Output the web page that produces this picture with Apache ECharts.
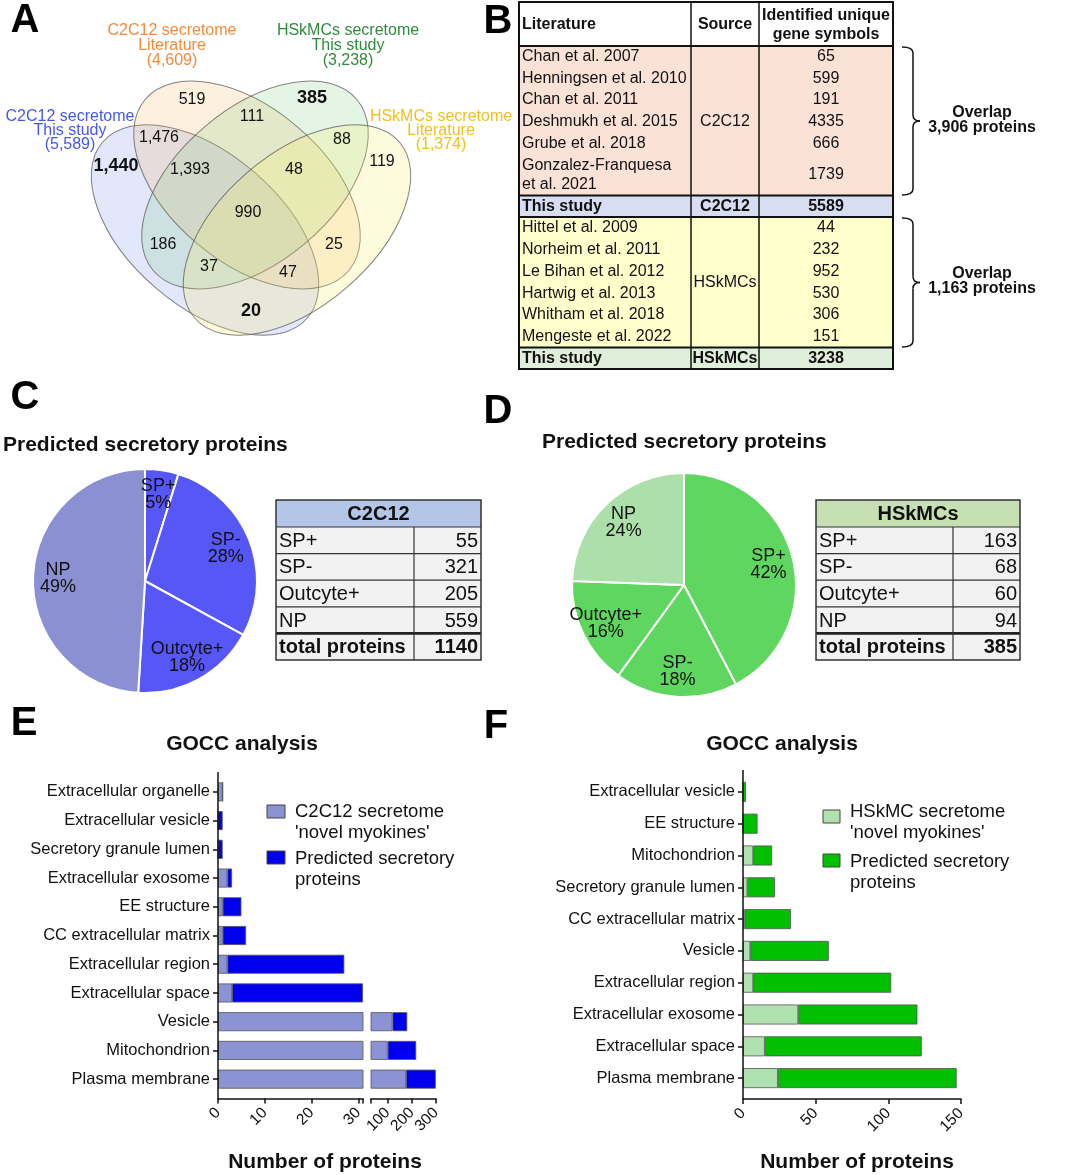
<!DOCTYPE html>
<html><head><meta charset="utf-8">
<script src="https://cdn.jsdelivr.net/npm/echarts@6/dist/echarts.min.js"></script>
<style>html,body{margin:0;padding:0;background:#fff}#c{width:1065px;height:1175px}</style>
</head><body><div id="c"></div>
<script>
// ================= DATA =================
// Panel A – Venn
const vennSetNames = ['C2C12 secretome\nThis study', 'C2C12 secretome\nLiterature', 'HSkMCs secretome\nThis study', 'HSkMCs secretome\nLiterature'];
const vennSetSizes = [5589, 4609, 3238, 1374];
const vennRegionCounts = [1440, 519, 385, 119, 1476, 111, 88, 1393, 48, 990, 186, 25, 37, 47, 20];
const vennBold = [true, false, true, false, false, false, false, false, false, false, false, false, false, false, true];

// Panel B – literature table
const litC2C12 = ['Chan et al. 2007', 'Henningsen et al. 2010', 'Chan et al. 2011', 'Deshmukh et al. 2015', 'Grube et al. 2018', 'Gonzalez-Franquesa\net al. 2021'];
const litC2C12Counts = [65, 599, 191, 4335, 666, 1739];
const litHSk = ['Hittel et al. 2009', 'Norheim et al. 2011', 'Le Bihan et al. 2012', 'Hartwig et al. 2013', 'Whitham et al. 2018', 'Mengeste et al. 2022'];
const litHSkCounts = [44, 232, 952, 530, 306, 151];
const thisStudyCounts = [5589, 3238];
const overlapCounts = ['3,906', '1,163'];

// Panels C/D – predicted secretory proteins
const pieCats = ['SP+', 'SP-', 'Outcyte+', 'NP'];
const c2c12Pie = [55, 321, 205, 559];
const hskPie = [163, 68, 60, 94];

// Panel E – GOCC C2C12
const catsE = ['Extracellular organelle', 'Extracellular vesicle', 'Secretory granule lumen', 'Extracellular exosome', 'EE structure', 'CC extracellular matrix', 'Extracellular region', 'Extracellular space', 'Vesicle', 'Mitochondrion', 'Plasma membrane'];
const novelE = [1, 0, 0, 2, 1, 1, 2, 3, 120, 100, 176];
const predE = [0, 1, 1, 1, 4, 5, 25, 28, 61, 118, 123];
const ticksE1 = [0, 10, 20, 30];
const ticksE2 = [100, 200, 300];

// Panel F – GOCC HSkMCs
const catsF = ['Extracellular vesicle', 'EE structure', 'Mitochondrion', 'Secretory granule lumen', 'CC extracellular matrix', 'Vesicle', 'Extracellular region', 'Extracellular exosome', 'Extracellular space', 'Plasma membrane'];
const novelF = [0, 0, 7, 3, 1, 5, 7, 38, 15, 24];
const predF = [2, 10, 13, 19, 32, 54, 95, 82, 108, 123];

// ================= LAYOUT / STYLE =================
const FF = '"Liberation Sans", Arial, Helvetica, sans-serif';
function txt(x, y, text, o) {
  o = o || {};
  const st = {x: x, y: y, text: String(text), fill: o.color || '#111',
    font: (o.bold ? 'bold ' : '') + (o.size || 16) + 'px ' + FF,
    textAlign: o.align || 'left', align: o.align || 'left',
    textVerticalAlign: o.va || 'middle', verticalAlign: o.va || 'middle'};
  if (o.lh) st.lineHeight = o.lh;
  return {type: 'text', silent: true, z: o.z || 20, style: st};
}
function rect(x, y, w, h, fill, stroke, lw, z) {
  return {type: 'rect', silent: true, z: z || 5, shape: {x: x, y: y, width: w, height: h},
    style: {fill: fill || 'none', stroke: stroke || null, lineWidth: lw || 0}};
}
function line(x1, y1, x2, y2, lw, color, z) {
  return {type: 'line', silent: true, z: z || 8, shape: {x1: x1, y1: y1, x2: x2, y2: y2},
    style: {stroke: color || '#111', lineWidth: lw || 1}};
}
const fmt = n => n.toLocaleString('en-US');
const G = [];

// Panel letters
[['A', 25, 21], ['B', 498, 21.5], ['C', 25, 398], ['D', 498, 412], ['E', 24, 723.5], ['F', 496, 727]].forEach(l =>
  G.push(txt(l[1], l[2], l[0], {size: 40, bold: true, align: 'center', color: '#000'})));

// ---- Venn ellipses ----
const vennShapes = [
  {cx: 205, cy: 230, a: 135, b: 76, rot: -40.7, fill: 'rgba(100,120,240,0.18)'},
  {cx: 247, cy: 185, a: 133, b: 77, rot: -40, fill: 'rgba(250,170,80,0.18)'},
  {cx: 255, cy: 185, a: 133, b: 77, rot: 40, fill: 'rgba(110,200,110,0.18)'},
  {cx: 297, cy: 230, a: 135, b: 76, rot: 40.7, fill: 'rgba(250,238,100,0.22)'}
];
vennShapes.forEach(s => G.push({type: 'ellipse', silent: true, z: 3, x: s.cx, y: s.cy,
  rotation: s.rot * Math.PI / 180, shape: {cx: 0, cy: 0, rx: s.a, ry: s.b},
  style: {fill: s.fill, stroke: 'rgba(90,90,90,0.75)', lineWidth: 1}}));
const vennSetLabelPos = [[70, 130.5, 13.7], [172, 46, 15], [348, 46, 15], [441, 130.5, 13.7]];
const vennSetColors = ['#4458e8', '#f58a3a', '#2f8a3c', '#f0c020'];
vennSetNames.forEach((n, i) => {
  const p = vennSetLabelPos[i];
  G.push(txt(p[0], p[1], n + '\n(' + fmt(vennSetSizes[i]) + ')', {size: 16, align: 'center', color: vennSetColors[i], lh: p[2]}));
});
const vennRegionPos = [[116, 166], [192, 100], [312, 98], [382, 162], [159, 138], [252, 117], [342, 140], [190, 170], [294, 170], [248, 213], [163, 245], [334, 245], [209, 267], [288, 273], [251, 311]];
vennRegionCounts.forEach((c, i) => G.push(txt(vennRegionPos[i][0], vennRegionPos[i][1], fmt(c),
  {size: vennBold[i] ? 18 : 16, bold: vennBold[i], align: 'center', color: '#111'})));

// ---- Table B ----
(function () {
  const X0 = 519, X1 = 691, X2 = 759, X3 = 893, TOP = 2, HEAD = 46;
  const rh1 = 21.6, dbl = 41.6, rh2 = 21.75;
  const b1Top = HEAD, b1Bot = HEAD + rh1 * 5 + dbl;
  const t1Bot = b1Bot + 21.5;
  const b2Bot = t1Bot + rh2 * 6;
  const t2Bot = b2Bot + 21.5;
  G.push(rect(X0, TOP, X3 - X0, HEAD - TOP, '#ffffff'));
  G.push(rect(X0, b1Top, X3 - X0, b1Bot - b1Top, '#fbe2d6'));
  G.push(rect(X0, b1Bot, X3 - X0, t1Bot - b1Bot, '#d8def2'));
  G.push(rect(X0, t1Bot, X3 - X0, b2Bot - t1Bot, '#ffffcc'));
  G.push(rect(X0, b2Bot, X3 - X0, t2Bot - b2Bot, '#e0efda'));
  G.push(rect(X0, TOP, X3 - X0, t2Bot - TOP, null, '#111', 2, 9));
  [HEAD, b1Bot, t1Bot, b2Bot].forEach(y => G.push(line(X0, y, X3, y, 2)));
  [X1, X2].forEach(x => G.push(line(x, TOP, x, t2Bot, 1.5)));
  G.push(txt(X0 + 3, 25, 'Literature', {bold: true, size: 16}));
  G.push(txt((X1 + X2) / 2, 25, 'Source', {bold: true, size: 16, align: 'center'}));
  G.push(txt((X2 + X3) / 2, 25.5, 'Identified unique\ngene symbols', {bold: true, size: 16, align: 'center', lh: 19}));
  litC2C12.forEach((n, i) => {
    const y = i < 5 ? b1Top + rh1 * (i + 0.5) : b1Top + rh1 * 5 + dbl / 2;
    G.push(txt(X0 + 3, y, n, {size: 16, lh: 19}));
    G.push(txt((X2 + X3) / 2, y, litC2C12Counts[i], {size: 16, align: 'center'}));
  });
  G.push(txt((X1 + X2) / 2, b1Top + rh1 * 3.5, 'C2C12', {size: 16, align: 'center'}));
  litHSk.forEach((n, i) => {
    const y = t1Bot + rh2 * (i + 0.5);
    G.push(txt(X0 + 3, y, n, {size: 16}));
    G.push(txt((X2 + X3) / 2, y, litHSkCounts[i], {size: 16, align: 'center'}));
  });
  G.push(txt((X1 + X2) / 2, t1Bot + rh2 * 3, 'HSkMCs', {size: 16, align: 'center'}));
  [[b1Bot, t1Bot, 'C2C12'], [b2Bot, t2Bot, 'HSkMCs']].forEach((r, i) => {
    const y = (r[0] + r[1]) / 2 + 0.5;
    G.push(txt(X0 + 3, y, 'This study', {size: 16, bold: true}));
    G.push(txt((X1 + X2) / 2, y, r[2], {size: 16, bold: true, align: 'center'}));
    G.push(txt((X2 + X3) / 2, y, thisStudyCounts[i], {size: 16, bold: true, align: 'center'}));
  });
  function brace(y0, y1) {
    const xa = 902, xb = 913, xc = 920, r = 6, ym = (y0 + y1) / 2;
    const st = {stroke: '#111', lineWidth: 1.5, fill: 'none'};
    const bz = (x1, y1_, cx, cy, x2, y2) => ({type: 'bezierCurve', silent: true, z: 8,
      shape: {x1: x1, y1: y1_, cpx1: cx, cpy1: cy, x2: x2, y2: y2}, style: st});
    G.push(bz(xa, y0, xb, y0, xb, y0 + r));
    G.push(line(xb, y0 + r, xb, ym - r, 1.5));
    G.push(bz(xb, ym - r, xb, ym, xc, ym));
    G.push(bz(xc, ym, xb, ym, xb, ym + r));
    G.push(line(xb, ym + r, xb, y1 - r, 1.5));
    G.push(bz(xb, y1 - r, xb, y1, xa, y1));
  }
  brace(47, 195);
  brace(218, 347);
  G.push(txt(982, 120.5, 'Overlap\n' + overlapCounts[0] + ' proteins', {bold: true, size: 16, align: 'center', lh: 15}));
  G.push(txt(982, 281.5, 'Overlap\n' + overlapCounts[1] + ' proteins', {bold: true, size: 16, align: 'center', lh: 15}));
})();

// ---- Small tables C / D ----
function smallTable(X0, XM, X1, head, headColor, vals) {
  const top = 500, hh = 27, rh = 26.6;
  const bottom = top + hh + rh * 5;
  G.push(rect(X0, top, X1 - X0, hh, headColor));
  G.push(rect(X0, top + hh, X1 - X0, rh * 5, '#f2f2f2'));
  G.push(rect(X0, top, X1 - X0, bottom - top, null, '#333', 1.5, 9));
  for (let i = 0; i < 4; i++) G.push(line(X0, top + hh + rh * i, X1, top + hh + rh * i, 1.2, '#333'));
  G.push(line(X0, top + hh + rh * 4, X1, top + hh + rh * 4, 2.6, '#222'));
  G.push(line(XM, top + hh, XM, bottom, 1.2, '#333'));
  G.push(txt((X0 + X1) / 2, top + hh / 2 + 1, head, {bold: true, size: 20, align: 'center'}));
  const tot = vals.reduce((a, b) => a + b, 0);
  pieCats.forEach((c, i) => {
    const y = top + hh + rh * (i + 0.5) + 1;
    G.push(txt(X0 + 3, y, c, {size: 20}));
    G.push(txt(X1 - 3, y, vals[i], {size: 20, align: 'right'}));
  });
  const y = top + hh + rh * 4.5 + 1;
  G.push(txt(X0 + 3, y, 'total proteins', {size: 20, bold: true}));
  G.push(txt(X1 - 3, y, tot, {size: 20, bold: true, align: 'right'}));
}
smallTable(276, 414, 481, 'C2C12', '#b4c6e7', c2c12Pie);
smallTable(816, 953, 1020, 'HSkMCs', '#c6e0b4', hskPie);

// titles
G.push(txt(3, 445, 'Predicted secretory proteins', {bold: true, size: 21}));
G.push(txt(542, 442, 'Predicted secretory proteins', {bold: true, size: 21}));
G.push(txt(242, 744, 'GOCC analysis', {bold: true, size: 21, align: 'center'}));
G.push(txt(782, 744, 'GOCC analysis', {bold: true, size: 21, align: 'center'}));
G.push(txt(325, 1162, 'Number of proteins', {bold: true, size: 21, align: 'center'}));
G.push(txt(857, 1162, 'Number of proteins', {bold: true, size: 21, align: 'center'}));

// y-axis line extensions (axis drawn longer than the category band)
G.push(line(218, 772, 218, 1099, 1.5, '#111', 30));
G.push(line(743, 770, 743, 1099, 1.5, '#111', 30));

// colours
const colE = ['#8b93d4', '#0000ee'];
const colF = ['#b0e2b0', '#00c000'];
const pieColC = ['#5757f8', '#5757f8', '#5757f8', '#8a90d2'];
const pieColD = ['#5fd65f', '#5fd65f', '#5fd65f', '#acdfaa'];

// legends
G.push(rect(267, 805, 18, 13, colE[0], '#444', 1, 20));
G.push(txt(295, 822.5, "C2C12 secretome\n'novel myokines'", {size: 18.5, lh: 21}));
G.push(rect(267, 851, 18, 13, colE[1], '#444', 1, 20));
G.push(txt(295, 869, 'Predicted secretory\nproteins', {size: 18.5, lh: 21}));
G.push(rect(823, 810, 17, 13, colF[0], '#444', 1, 20));
G.push(txt(850, 822.5, "HSkMC secretome\n'novel myokines'", {size: 18.5, lh: 21}));
G.push(rect(823, 854, 17, 13, colF[1], '#444', 1, 20));
G.push(txt(850, 872, 'Predicted secretory\nproteins', {size: 18.5, lh: 21}));

// ================= CHART =================
const axisLbl = {color: '#111', fontFamily: FF};
function pieSeries(center, vals, cols) {
  const data = pieCats.map((n, i) => ({name: n, value: vals[i], itemStyle: {color: cols[i]}}));
  return [
    {type: 'pie', center: center, radius: [0, 112], startAngle: 90, clockwise: true, silent: true,
      data: data, label: {show: false}, labelLine: {show: false}, itemStyle: {borderColor: '#fff', borderWidth: 2}, z: 2},
    {type: 'pie', center: center, radius: [56, 112], startAngle: 90, clockwise: true, silent: true,
      data: pieCats.map((n, i) => ({name: n, value: vals[i]})),
      itemStyle: {color: 'rgba(0,0,0,0)', borderWidth: 0}, labelLine: {show: false}, z: 3,
      label: {show: true, position: 'inside', color: '#111', fontSize: 18, lineHeight: 17, fontFamily: FF,
        formatter: p => p.name + '\n' + Math.round(p.percent) + '%'}}
  ];
}
function bars(xi, stack, novel, pred, cols, bw) {
  return [
    {type: 'bar', name: 'novel', silent: true, xAxisIndex: xi, yAxisIndex: xi, stack: stack, barWidth: bw, data: novel,
      itemStyle: {color: cols[0], borderColor: '#555', borderWidth: 0.8}},
    {type: 'bar', name: 'pred', silent: true, xAxisIndex: xi, yAxisIndex: xi, stack: stack, barWidth: bw, data: pred,
      itemStyle: {color: cols[1], borderColor: '#555', borderWidth: 0.8}}
  ];
}
const brk = 31;
const novelE2 = novelE.map((v, i) => novelE[i] + predE[i] > brk ? v : '-');
const predE2 = predE.map((v, i) => novelE[i] + predE[i] > brk ? v : '-');

const catAxis = (cats, gi, show) => ({type: 'category', gridIndex: gi, data: cats, inverse: true,
  axisLine: {show: false},
  axisTick: {show: show, alignWithLabel: true, length: 5, lineStyle: {color: '#111', width: 1.5}},
  axisLabel: Object.assign({show: show, fontSize: 16.5, margin: 8}, axisLbl)});
const tickStyle = {show: true, length: 5, lineStyle: {color: '#111', width: 1.5}};
const valAxisBase = {type: 'value', splitLine: {show: false}, offset: 5,
  axisLine: {show: true, lineStyle: {color: '#111', width: 1.5}}};
const lblBase = {rotate: 45, fontSize: 15.5, margin: 12};

const option = {
  animation: false,
  backgroundColor: '#fff',
  grid: [
    {left: 218, top: 777.5, width: 145, height: 316},
    {left: 371, top: 777.5, width: 65, height: 316},
    {left: 743, top: 776, width: 218, height: 318}
  ],
  yAxis: [catAxis(catsE, 0, true), catAxis(catsE, 1, false), catAxis(catsF, 2, true)],
  xAxis: [
    Object.assign({}, valAxisBase, {gridIndex: 0, min: 0, max: brk,
      axisTick: Object.assign({customValues: ticksE1.concat([brk])}, tickStyle),
      axisLabel: Object.assign({customValues: ticksE1}, lblBase, axisLbl)}),
    Object.assign({}, valAxisBase, {gridIndex: 1, min: brk, max: 300,
      axisTick: Object.assign({customValues: [brk].concat(ticksE2)}, tickStyle),
      axisLabel: Object.assign({customValues: ticksE2}, lblBase, axisLbl)}),
    Object.assign({}, valAxisBase, {gridIndex: 2, min: 0, max: 150, interval: 50,
      axisTick: tickStyle,
      axisLabel: Object.assign({}, lblBase, axisLbl)})
  ],
  series: [].concat(
    pieSeries([145, 581], c2c12Pie, pieColC),
    pieSeries([684, 585], hskPie, pieColD),
    bars(0, 'e1', novelE, predE, colE, 19),
    bars(1, 'e2', novelE2, predE2, colE, 19),
    bars(2, 'f', novelF, predF, colF, 20)
  ),
  graphic: {elements: G}
};
const chart = echarts.init(document.getElementById('c'), null, {renderer: 'canvas'});
chart.setOption(option);
</script>
</body></html>
